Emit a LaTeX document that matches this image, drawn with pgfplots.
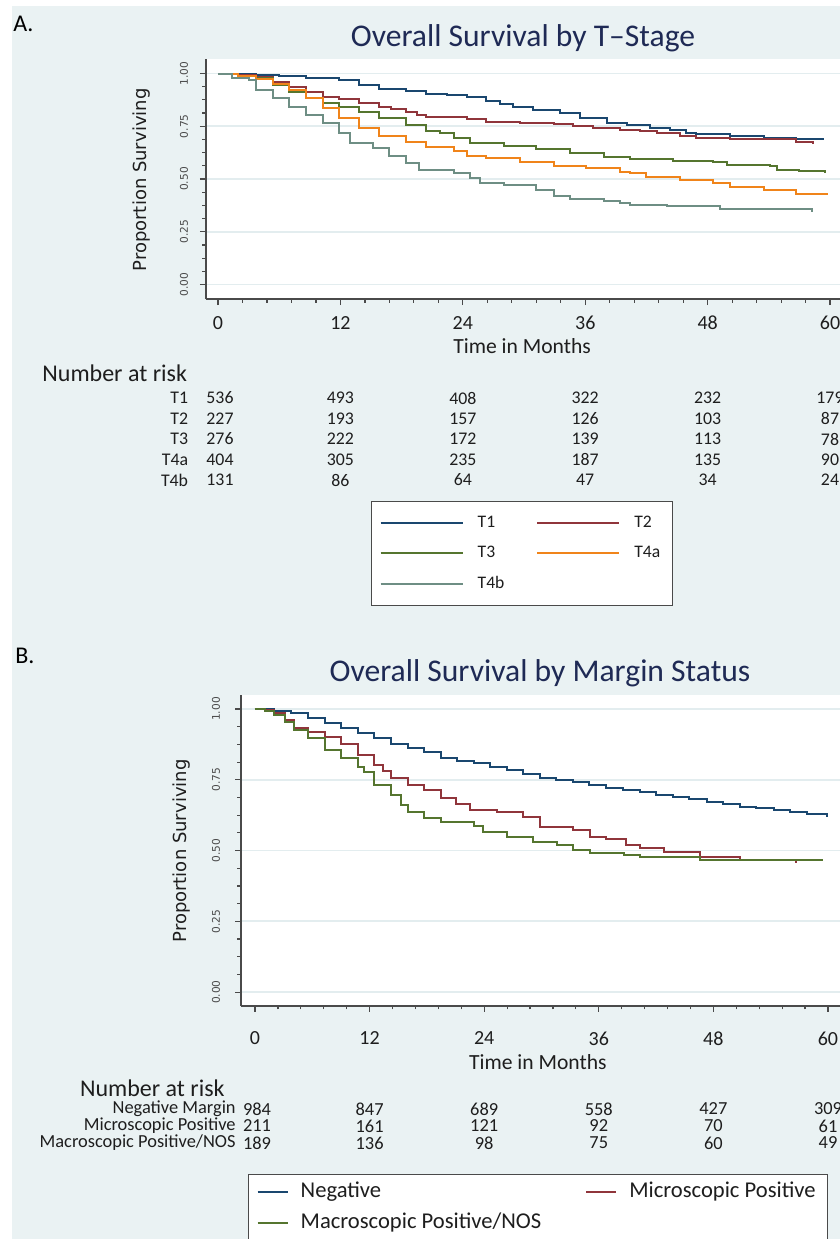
\documentclass[border=0pt]{standalone}
\usepackage{fontspec}
\setmainfont{Carlito}
\newfontfamily\dejavu{DejaVu Sans}
\usepackage{pgfplots}
\pgfplotsset{compat=1.18}

\definecolor{bgcol}{HTML}{EAF2F3}
\definecolor{gridcol}{HTML}{E3EDEF}
\definecolor{stnavy}{HTML}{1A476F}
\definecolor{stmaroon}{HTML}{90353B}
\definecolor{stgreen}{HTML}{55752F}
\definecolor{storange}{HTML}{F0841A}
\definecolor{stteal}{HTML}{6E8E84}
\definecolor{titlecol}{HTML}{1F2A55}
\definecolor{axiscol}{HTML}{4A4A4A}
\definecolor{txtcol}{HTML}{1E1E1E}

% shared look of both survival plots
\pgfplotsset{kmaxis/.style={
    scale only axis,
    axis x line*=bottom, axis y line*=left,
    axis line style={axiscol, line width=0.8pt},
    axis background/.style={fill=white},
    tick align=outside, major tick length=3pt, minor tick length=1.8pt,
    every tick/.style={axiscol, line width=0.6pt},
    xtick={0,12,...,60}, minor x tick num=4,
    ytick={0,0.25,0.5,0.75,1}, minor y tick num=3,
    ymajorgrids, grid style={gridcol, line width=0.9pt},
    /pgf/number format/assume math mode=true,
    yticklabel={\pgfmathprintnumber[fixed,fixed zerofill,precision=2]{\tick}},
    yticklabel style={rotate=90, anchor=south, font=\dejavu\fontsize{5.3}{6}\selectfont, text=axiscol},
    xticklabel style={font=\fontsize{10}{12}\selectfont, text=txtcol},
    ylabel={Proportion Surviving},
    ylabel style={font=\dejavu\fontsize{9}{10}\selectfont, text=txtcol, anchor=center},
    xlabel={Time in Months},
    xlabel style={font=\fontsize{10.8}{12}\selectfont, text=txtcol, anchor=center},
    every axis plot/.append style={line width=1pt, const plot},
    legend columns=2, legend cell align=left,
}}

\begin{document}
\begin{tikzpicture}
\useasboundingbox (0pt,0pt) rectangle (420pt,-619.5pt);
\clip (0pt,0pt) rectangle (420pt,-619.5pt);

\begin{scope}[x=0.5pt, y=-0.5pt]
\fill[white] (0,0) rectangle (840,1239);
\fill[bgcol] (12,6) rectangle (840,1239);
\node[font=\fontsize{12}{14}\selectfont, anchor=west, inner sep=0pt] at (13,24) {A.};
\node[font=\fontsize{12}{14}\selectfont, anchor=west, inner sep=0pt] at (15,656) {B.};
\node[font=\fontsize{15.8}{18}\selectfont, text=titlecol] at (523,38) {Overall Survival by T--Stage};
\node[font=\fontsize{15.8}{18}\selectfont, text=titlecol] at (540,673) {Overall Survival by Margin Status};
\end{scope}

% ---------------- A: by T-stage ----------------
\begin{axis}[kmaxis,
    at={(103pt,-149.5pt)}, anchor=south west,
    width=318pt, height=120pt,
    xmin=-1.18, xmax=61.17, ymin=-0.0687, ymax=1.0687,
    xticklabel style={yshift=-2pt},
    yticklabel style={yshift=2.5pt},
    ylabel style={at={(axis description cs:-0.1006,0.496)}},
    xlabel style={at={(axis description cs:0.497,-0.196)}},
    legend style={at={(axis description cs:0.2594,-0.8417)}, anchor=north west,
        draw=axiscol, line width=0.7pt, fill=white,
        font=\fontsize{8.8}{10}\selectfont, text=txtcol,
        inner xsep=4pt, inner ysep=5pt, row sep=4pt,
        /tikz/every even column/.append style={column sep=14pt}},
    legend image code/.code={\draw[#1] (0pt,0pt) -- (41pt,0pt); \path (46pt,0pt);},
]
\addplot[stnavy] table {
0 1.000
3.7 0.995
6.0 0.988
8.6 0.980
11.9 0.967
13.8 0.945
15.8 0.925
18.4 0.916
20.4 0.903
22.4 0.897
24.4 0.887
26.3 0.871
27.6 0.857
28.9 0.843
30.9 0.827
33.5 0.811
35.5 0.788
38.1 0.767
40.1 0.756
42.3 0.740
44.3 0.733
45.9 0.716
46.9 0.713
50.2 0.704
53.5 0.696
56.7 0.688
59.3 0.683
};
\addplot[stmaroon] table {
0 1.000
2.0 0.995
3.7 0.985
5.4 0.961
7.0 0.937
8.6 0.913
10.3 0.890
11.9 0.877
13.8 0.858
15.8 0.842
17.0 0.830
18.4 0.819
19.5 0.805
20.4 0.795
24.4 0.783
26.3 0.771
29.6 0.764
32.9 0.759
34.8 0.751
36.8 0.740
39.4 0.732
41.4 0.729
43.0 0.716
45.3 0.704
46.9 0.693
50.2 0.691
53.5 0.688
56.7 0.677
58.3 0.666
};
\addplot[stgreen] table {
0 1.000
2.0 0.990
3.7 0.977
5.4 0.946
7.0 0.914
8.6 0.883
10.3 0.858
11.9 0.842
13.8 0.819
15.8 0.788
18.4 0.756
20.4 0.729
21.8 0.716
23.1 0.693
24.7 0.669
28.0 0.656
31.2 0.641
34.5 0.621
37.8 0.602
40.4 0.595
44.6 0.587
48.5 0.583
49.9 0.568
54.1 0.564
54.8 0.545
57.0 0.537
59.5 0.529
};
\addplot[storange] table {
0 1.000
2.0 0.990
3.7 0.972
5.4 0.950
7.0 0.922
8.6 0.883
10.3 0.836
11.9 0.788
13.8 0.740
15.8 0.704
18.4 0.677
20.4 0.651
23.1 0.635
24.4 0.607
26.3 0.600
29.6 0.583
32.9 0.562
36.1 0.551
39.4 0.535
40.4 0.527
42.0 0.508
45.3 0.495
48.5 0.482
50.2 0.463
53.5 0.450
56.7 0.431
59.7 0.426
};
\addplot[stteal] table {
0 1.000
1.4 0.977
3.0 0.969
3.7 0.922
5.4 0.883
7.0 0.842
8.6 0.803
10.3 0.764
11.9 0.716
12.9 0.669
15.2 0.645
16.8 0.607
18.4 0.575
19.7 0.543
23.1 0.527
24.7 0.503
25.7 0.482
28.0 0.472
31.2 0.447
32.9 0.418
34.5 0.403
37.8 0.395
39.4 0.384
40.4 0.379
44.0 0.371
49.2 0.356
58.2 0.343
};
\legend{T1, T2, T3, T4a, T4b}
\end{axis}

% ---------------- B: by margin status ----------------
\begin{axis}[kmaxis,
    at={(120.5pt,-502.85pt)}, anchor=south west,
    width=300.5pt, height=155.35pt,
    xmin=-1.466, xmax=61.47, ymin=-0.048, ymax=1.0495,
    xticklabel style={yshift=-6.5pt},
    yticklabel style={yshift=4pt},
    ylabel style={at={(axis description cs:-0.0982,0.498)}},
    xlabel style={at={(axis description cs:0.494,-0.181)}},
    legend style={at={(axis description cs:0.01165,-0.5417)}, anchor=north west,
        draw=axiscol, line width=0.7pt, fill=white,
        font=\fontsize{11.3}{12}\selectfont, text=txtcol,
        inner xsep=4pt, inner ysep=1.5pt, row sep=1pt,
        nodes={text height=8pt, text depth=2.5pt, inner ysep=2pt},
        /tikz/every even column/.append style={column sep=20pt}},
    legend image code/.code={\draw[#1] (0pt,0pt) -- (15pt,0pt); \path (19pt,0pt);},
]
\addplot[stnavy] table {
0 1.000
2.0 0.994
3.8 0.985
5.5 0.967
7.3 0.949
9.0 0.934
10.8 0.914
12.5 0.896
14.2 0.875
16.0 0.861
17.7 0.847
19.5 0.826
21.2 0.817
22.9 0.808
24.6 0.796
26.4 0.784
28.1 0.771
29.8 0.757
31.5 0.749
33.3 0.741
35.0 0.732
36.8 0.722
38.5 0.714
40.3 0.706
42.0 0.698
43.8 0.690
45.5 0.681
47.3 0.672
49.0 0.664
50.8 0.655
52.5 0.649
54.3 0.643
56.0 0.636
57.8 0.628
59.9 0.618
};
\addplot[stmaroon] table {
0 1.000
1.0 0.995
2.0 0.985
3.1 0.961
4.1 0.932
5.5 0.920
7.3 0.902
9.0 0.875
10.8 0.837
12.5 0.802
13.4 0.780
14.2 0.755
16.0 0.731
17.7 0.714
19.5 0.684
21.0 0.665
22.5 0.643
25.3 0.637
28.1 0.620
29.8 0.584
33.3 0.572
35.1 0.549
36.8 0.541
38.9 0.519
40.3 0.508
42.8 0.496
46.6 0.478
50.8 0.466
56.7 0.455
};
\addplot[stgreen] table {
0 1.000
1.0 0.992
2.0 0.979
3.1 0.955
4.1 0.926
5.5 0.896
7.3 0.855
9.0 0.826
10.8 0.796
11.4 0.778
12.5 0.731
14.2 0.696
15.3 0.661
16.0 0.637
17.7 0.614
19.5 0.602
22.9 0.588
23.9 0.567
26.4 0.549
29.1 0.531
31.6 0.519
33.3 0.502
35.1 0.490
38.6 0.484
40.3 0.478
46.6 0.466
59.5 0.466
};
\legend{Negative, Microscopic Positive, Macroscopic Positive/NOS}
\end{axis}

% ---------------- numbers at risk ----------------
\begin{scope}[x=0.5pt, y=-0.5pt, every node/.style={text=txtcol, inner sep=0pt}]
\node[anchor=west, font=\fontsize{12}{14}\selectfont] at (42,373) {Number at risk};
\begin{scope}[font=\fontsize{8.9}{10}\selectfont]
\node[anchor=east] at (188.5,398) {T1};
\node[anchor=east] at (188.5,418.5) {T2};
\node[anchor=east] at (188.5,439) {T3};
\node[anchor=east] at (188.5,459.5) {T4a};
\node[anchor=east] at (188.5,480) {T4b};
\node at (220,398) {536}; \node at (340.4,398) {493}; \node at (462.8,398) {408};
\node at (585.2,398) {322}; \node at (707.6,398) {232}; \node at (830,398) {179};
\node at (220,418.5) {227}; \node at (340.4,418.5) {193}; \node at (462.8,418.5) {157};
\node at (585.2,418.5) {126}; \node at (707.6,418.5) {103}; \node at (830,418.5) {87};
\node at (220,439) {276}; \node at (340.4,439) {222}; \node at (462.8,439) {172};
\node at (585.2,439) {139}; \node at (707.6,439) {113}; \node at (830,439) {78};
\node at (220,459.5) {404}; \node at (340.4,459.5) {305}; \node at (462.8,459.5) {235};
\node at (585.2,459.5) {187}; \node at (707.6,459.5) {135}; \node at (830,459.5) {90};
\node at (220,480) {131}; \node at (340.4,480) {86}; \node at (462.8,480) {64};
\node at (585.2,480) {47}; \node at (707.6,480) {34}; \node at (830,480) {24};
\end{scope}

\node[anchor=east, font=\fontsize{12}{14}\selectfont] at (225,1088) {Number at risk};
\begin{scope}[font=\fontsize{9.2}{10}\selectfont]
\node[anchor=east] at (236,1109) {Negative Margin};
\node[anchor=east] at (236,1126) {Microscopic Positive};
\node[anchor=east] at (236,1143) {Macroscopic Positive/NOS};
\node at (257,1109) {984}; \node at (369.6,1109) {847}; \node at (484.2,1109) {689};
\node at (598.8,1109) {558}; \node at (713.4,1109) {427}; \node at (828,1109) {309};
\node at (257,1126) {211}; \node at (369.6,1126) {161}; \node at (484.2,1126) {121};
\node at (598.8,1126) {92}; \node at (713.4,1126) {70}; \node at (828,1126) {61};
\node at (257,1143) {189}; \node at (369.6,1143) {136}; \node at (484.2,1143) {98};
\node at (598.8,1143) {75}; \node at (713.4,1143) {60}; \node at (828,1143) {49};
\end{scope}
\end{scope}
\end{tikzpicture}
\end{document}
